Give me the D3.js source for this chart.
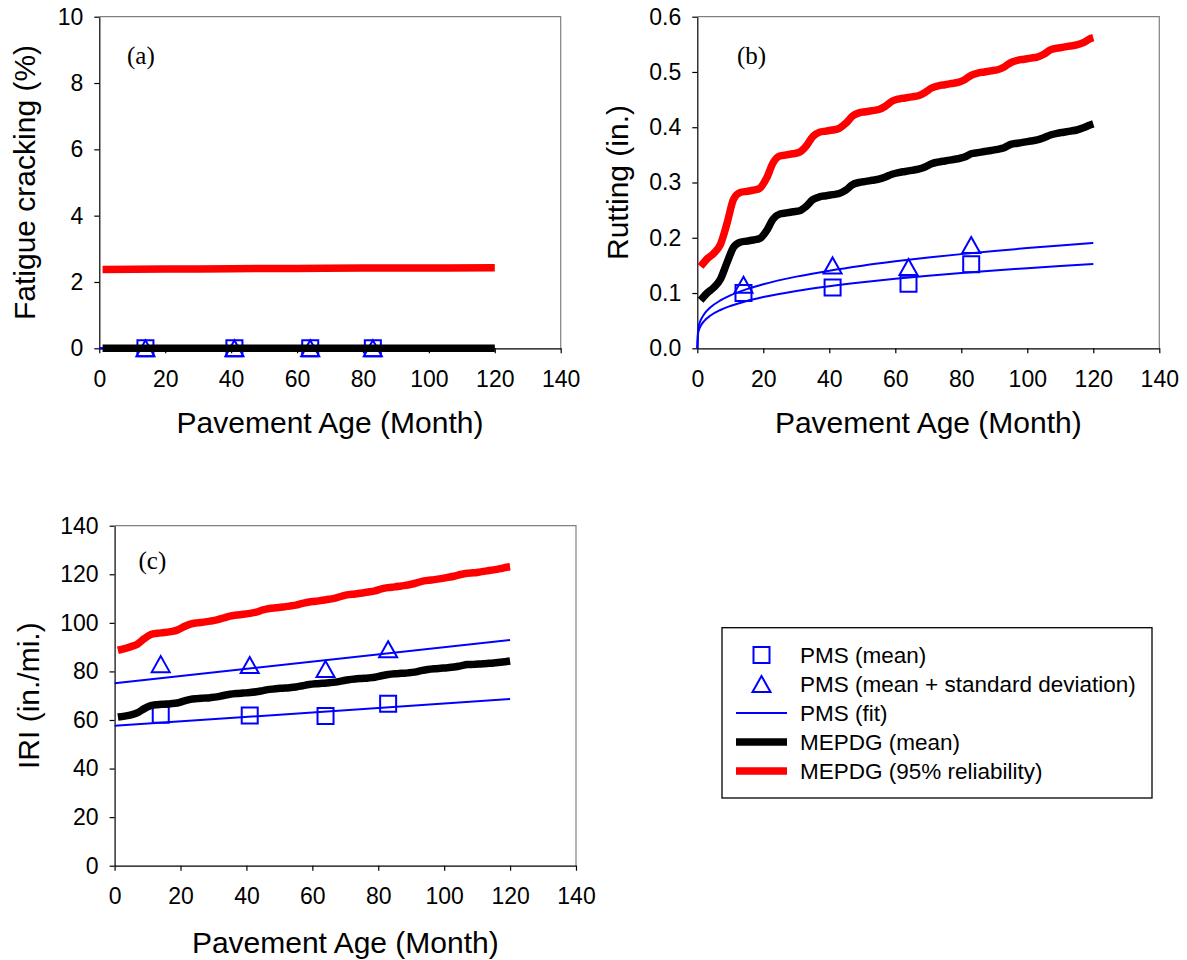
<!DOCTYPE html>
<html lang="en">
<head>
<meta charset="UTF-8">
<title>Pavement distress: PMS vs MEPDG</title>
<style>
  body { margin: 0; background: #fff; }
  svg { display: block; font-family: Arial, "Liberation Sans", sans-serif; }
  .tick text { font-size: 23px; fill: #000; }
  .tick line, .domain { stroke: #000; stroke-width: 1.2; }
</style>
</head>
<body>
<svg id="chart" width="1187" height="960"></svg>
<script src="https://cdnjs.cloudflare.com/ajax/libs/d3/7.8.5/d3.min.js"></script>
<script>
// ---- data ----
const xTicks = [0, 20, 40, 60, 80, 100, 120, 140];

// MEPDG predictions, sampled every two months
const months = [1, 3, 5, 7, 9, 11, 13, 15, 17, 19, 21, 23, 25, 27, 29, 31, 33, 35, 37, 39,
  41, 43, 45, 47, 49, 51, 53, 55, 57, 59, 61, 63, 65, 67, 69, 71, 73, 75, 77, 79,
  81, 83, 85, 87, 89, 91, 93, 95, 97, 99, 101, 103, 105, 107, 109, 111, 113, 115, 117, 119, 120];

// (a) fatigue cracking
const crackMonths = [1, 20, 40, 60, 80, 100, 120];
const crackMean = [0, 0, 0, 0, 0, 0, 0];
const crack95 = [2.38, 2.39, 2.40, 2.41, 2.42, 2.42, 2.43];
const crackTicks = [0, 2, 4, 6, 8, 10];

// (b) rutting
const rutMean = [0.087, 0.100, 0.110, 0.125, 0.155, 0.183,
  0.192, 0.194, 0.196, 0.199, 0.213, 0.234,
  0.243, 0.245, 0.247, 0.249, 0.257, 0.269,
  0.274, 0.276, 0.278, 0.280, 0.286, 0.296,
  0.300, 0.302, 0.304, 0.306, 0.310, 0.315,
  0.318, 0.320, 0.322, 0.324, 0.328, 0.334,
  0.337, 0.339, 0.341, 0.343, 0.346, 0.352,
  0.354, 0.356, 0.358, 0.360, 0.363, 0.369,
  0.371, 0.373, 0.375, 0.377, 0.381, 0.386,
  0.389, 0.391, 0.393, 0.395, 0.399, 0.404, 0.406];
const rut95 = [0.148, 0.162, 0.172, 0.188, 0.226, 0.270,
  0.282, 0.284, 0.286, 0.290, 0.308, 0.336,
  0.348, 0.350, 0.352, 0.355, 0.366, 0.383,
  0.391, 0.393, 0.395, 0.398, 0.407, 0.420,
  0.426, 0.428, 0.430, 0.432, 0.438, 0.447,
  0.451, 0.453, 0.455, 0.457, 0.463, 0.471,
  0.475, 0.477, 0.479, 0.481, 0.486, 0.494,
  0.498, 0.500, 0.502, 0.504, 0.509, 0.517,
  0.521, 0.523, 0.525, 0.527, 0.532, 0.540,
  0.543, 0.545, 0.547, 0.549, 0.553, 0.560, 0.562];
const rutTicks = [0, 0.1, 0.2, 0.3, 0.4, 0.5, 0.6];
const fitMonths = [0, 0.25, 0.5, 1, 2, 4, 7, 10, 15, 20, 30, 40, 50, 60, 70, 80, 90, 100, 110, 120];
const rutFitMean = [0, 0.0274, 0.0333, 0.0403, 0.0489, 0.0593, 0.0693, 0.0765, 0.0856, 0.0927,
  0.1038, 0.1124, 0.1196, 0.1258, 0.1314, 0.1363, 0.1409, 0.1450, 0.1490, 0.1526];
const rutFitSd = [0, 0.0343, 0.0416, 0.0504, 0.0611, 0.0741, 0.0866, 0.0956, 0.1070, 0.1159,
  0.1297, 0.1405, 0.1495, 0.1573, 0.1642, 0.1704, 0.1761, 0.1813, 0.1862, 0.1908];

// (c) IRI
const iriMean = [61.2, 61.6, 62.1, 63.0, 64.7, 65.9,
  66.3, 66.5, 66.7, 67.0, 67.8, 68.5,
  68.8, 69.0, 69.2, 69.5, 70.1, 70.6,
  70.9, 71.1, 71.3, 71.6, 72.1, 72.6,
  72.9, 73.1, 73.3, 73.6, 74.1, 74.6,
  74.9, 75.1, 75.3, 75.6, 76.1, 76.6,
  76.9, 77.1, 77.3, 77.6, 78.2, 78.7,
  79.0, 79.2, 79.4, 79.7, 80.3, 80.8,
  81.1, 81.3, 81.5, 81.8, 82.3, 82.8,
  82.9, 83.1, 83.3, 83.5, 83.8, 84.1, 84.3];
const iri95 = [88.7, 89.4, 90.2, 91.3, 93.5, 95.2,
  95.7, 96.0, 96.4, 97.0, 98.4, 99.5,
  100.0, 100.3, 100.7, 101.2, 102.0, 102.8,
  103.2, 103.5, 103.9, 104.4, 105.3, 105.9,
  106.2, 106.5, 106.9, 107.3, 108.0, 108.6,
  108.9, 109.3, 109.7, 110.2, 111.0, 111.6,
  111.9, 112.3, 112.7, 113.2, 114.0, 114.5,
  114.8, 115.2, 115.6, 116.2, 117.0, 117.5,
  117.8, 118.2, 118.7, 119.2, 119.9, 120.4,
  120.6, 121.0, 121.4, 121.8, 122.3, 122.9, 123.1];
const iriTicks = [0, 20, 40, 60, 80, 100, 120, 140];
const lineMonths = [0, 120];
const iriFitMean = [57.6, 68.6];
const iriFitSd = [75.1, 92.9];

// PMS observations
const obsMonths = [14, 41, 64, 83];
const crackObsMean = [0, 0, 0, 0];
const crackObsSd = [0, 0, 0, 0];
const rutObsMean = [0.100, 0.110, 0.117, 0.152];
const rutObsSd = [0.115, 0.150, 0.147, 0.187];
const iriObsMean = [62.2, 61.8, 61.6, 66.7];
const iriObsSd = [83.0, 82.6, 81.0, 89.1];

const legendLabels = ["PMS (mean)", "PMS (mean + standard deviation)", "PMS (fit)",
  "MEPDG (mean)", "MEPDG (95% reliability)"];

// ---- drawing ----
const svg = d3.select("#chart");
const BLUE = "#0000ff", RED = "#ff0000";

function squarePath(s) {
  const h = s / 2;
  return `M${-h},${-h}H${h}V${h}H${-h}Z`;
}
function trianglePath(w, h) {
  return `M0,${-h / 2}L${w / 2},${h / 2}L${-w / 2},${h / 2}Z`;
}

function drawPanel(p) {
  const x = d3.scaleLinear().domain([0, 140]).range([p.left, p.right]);
  const y = d3.scaleLinear().domain(p.yDomain).range([p.bottom, p.top]);
  const g = svg.append("g");

  // frame: grey top and right
  g.append("path")
    .attr("d", `M${p.left},${p.top}H${p.right}V${p.bottom}`)
    .attr("fill", "none").attr("stroke", "#808080").attr("stroke-width", 1.2);

  g.append("g")
    .attr("transform", `translate(0,${p.bottom})`)
    .call(d3.axisBottom(x).tickValues(xTicks).tickSize(5).tickSizeOuter(0).tickPadding(17));

  g.append("g")
    .attr("transform", `translate(${p.left},0)`)
    .call(d3.axisLeft(y).tickValues(p.yTicks).tickFormat(d3.format(p.fmt))
      .tickSize(5).tickSizeOuter(0).tickPadding(11));

  // observations
  g.selectAll(".sq").data(obsMonths).join("path")
    .attr("d", squarePath(16))
    .attr("transform", (d, i) => `translate(${x(d)},${y(p.obsMean[i])})`)
    .attr("fill", "none").attr("stroke", BLUE).attr("stroke-width", 2);
  g.selectAll(".tri").data(obsMonths).join("path")
    .attr("d", trianglePath(18, 16))
    .attr("transform", (d, i) => `translate(${x(d)},${y(p.obsSd[i])})`)
    .attr("fill", "none").attr("stroke", BLUE).attr("stroke-width", 2);

  const line = (xs) => d3.line()
    .x((d, i) => x(xs[i])).y(d => y(d))
    .curve(d3.curveMonotoneX);

  [p.fitMean, p.fitSd].forEach(vals => {
    g.append("path").attr("d", line(p.fitX)(vals))
      .attr("fill", "none").attr("stroke", BLUE).attr("stroke-width", 2);
  });
  g.append("path").attr("d", line(p.predX)(p.predMean))
    .attr("fill", "none").attr("stroke", "#000").attr("stroke-width", 7.5)
    .attr("stroke-linejoin", "round");
  g.append("path").attr("d", line(p.predX)(p.pred95))
    .attr("fill", "none").attr("stroke", RED).attr("stroke-width", 7.5)
    .attr("stroke-linejoin", "round");

  // titles
  g.append("text")
    .attr("x", (p.left + p.right) / 2).attr("y", p.xTitleY)
    .attr("text-anchor", "middle").attr("font-size", 30)
    .text("Pavement Age (Month)");
  g.append("text")
    .attr("transform", `translate(${p.yTitleX},${(p.top + p.bottom) / 2}) rotate(-90)`)
    .attr("text-anchor", "middle").attr("font-size", 30)
    .text(p.yTitle);
  g.append("text")
    .attr("x", p.tagX).attr("y", p.tagY)
    .attr("font-family", "'Liberation Serif', 'Times New Roman', serif")
    .attr("font-size", 25)
    .text(p.tag);
}

drawPanel({
  left: 99.3, right: 560.7, top: 16.7, bottom: 348.3,
  yDomain: [0, 10], yTicks: crackTicks, fmt: "d",
  obsMean: crackObsMean, obsSd: crackObsSd,
  fitX: lineMonths, fitMean: [0, 0], fitSd: [0, 0],
  predX: crackMonths, predMean: crackMean, pred95: crack95,
  xTitleY: 433, yTitleX: 35, yTitle: "Fatigue cracking (%)",
  tag: "(a)", tagX: 127, tagY: 64
});

drawPanel({
  left: 697.3, right: 1159.3, top: 16.7, bottom: 348.3,
  yDomain: [0, 0.6], yTicks: rutTicks, fmt: ".1f",
  obsMean: rutObsMean, obsSd: rutObsSd,
  fitX: fitMonths, fitMean: rutFitMean, fitSd: rutFitSd,
  predX: months, predMean: rutMean, pred95: rut95,
  xTitleY: 433, yTitleX: 628, yTitle: "Rutting (in.)",
  tag: "(b)", tagX: 737, tagY: 64
});

drawPanel({
  left: 114.6, right: 576, top: 525.7, bottom: 865.7,
  yDomain: [0, 140], yTicks: iriTicks, fmt: "d",
  obsMean: iriObsMean, obsSd: iriObsSd,
  fitX: lineMonths, fitMean: iriFitMean, fitSd: iriFitSd,
  predX: months, predMean: iriMean, pred95: iri95,
  xTitleY: 953, yTitleX: 38.5, yTitle: "IRI (in./mi.)",
  tag: "(c)", tagX: 138.5, tagY: 568.5
});

// legend
const lg = svg.append("g");
lg.append("rect")
  .attr("x", 722).attr("y", 627.7).attr("width", 430).attr("height", 170.3)
  .attr("fill", "#fff").attr("stroke", "#000").attr("stroke-width", 1.3);
const rowY = d3.scalePoint().domain(legendLabels).range([655, 771]);
const keyX = 736, keyW = 51;
legendLabels.forEach((lab, i) => {
  const yy = rowY(lab);
  if (i === 0) {
    lg.append("path").attr("d", squarePath(16))
      .attr("transform", `translate(${keyX + keyW / 2},${yy})`)
      .attr("fill", "none").attr("stroke", BLUE).attr("stroke-width", 2);
  } else if (i === 1) {
    lg.append("path").attr("d", trianglePath(18, 16))
      .attr("transform", `translate(${keyX + keyW / 2},${yy})`)
      .attr("fill", "none").attr("stroke", BLUE).attr("stroke-width", 2);
  } else {
    lg.append("line")
      .attr("x1", keyX).attr("x2", keyX + keyW).attr("y1", yy).attr("y2", yy)
      .attr("stroke", i === 2 ? BLUE : (i === 3 ? "#000" : RED))
      .attr("stroke-width", i === 2 ? 2 : 7.5);
  }
  lg.append("text")
    .attr("x", 800).attr("y", yy).attr("dy", "0.35em")
    .attr("font-size", 22.5)
    .text(lab);
});
</script>
</body>
</html>
